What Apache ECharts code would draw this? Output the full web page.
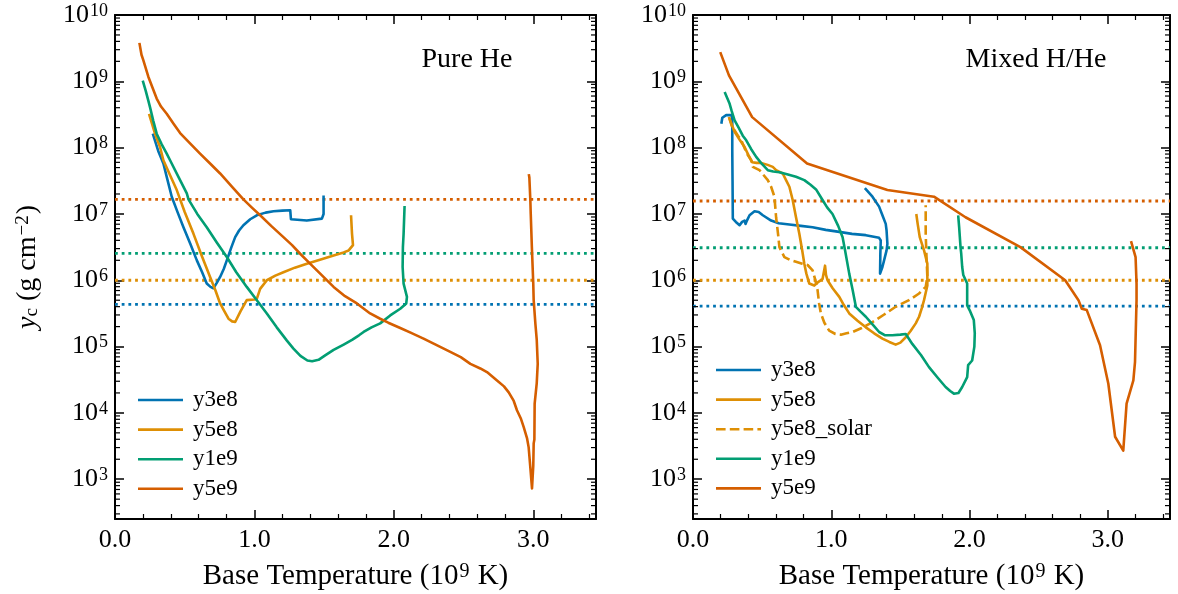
<!DOCTYPE html>
<html>
<head>
<meta charset="utf-8">
<title>Column depth vs base temperature</title>
<script src="https://cdn.jsdelivr.net/npm/echarts@6/dist/echarts.min.js"></script>
<style>
  html, body { margin: 0; padding: 0; background: #ffffff; }
  #chart { width: 1178px; height: 594px; }
</style>
</head>
<body>
<div id="chart"></div>
<script>
// Column depth y_c (stored as log10 of g cm^-2) against base temperature (10^9 K).
// Each track is a list of [T9, log10(y_c)] pairs.

// ---- Pure He ----
const pureHe_y3e8 = [
  [0.271, 8.21], [0.31, 7.95], [0.347, 7.76], [0.371, 7.56], [0.407, 7.26], [0.45, 7.02],
  [0.491, 6.80], [0.54, 6.55], [0.587, 6.30], [0.625, 6.12], [0.658, 5.95], [0.685, 5.90],
  [0.706, 5.88], [0.73, 5.96], [0.754, 6.05], [0.78, 6.17], [0.802, 6.30], [0.835, 6.50],
  [0.862, 6.65], [0.89, 6.75], [0.921, 6.83], [0.97, 6.92], [1.017, 6.98], [1.08, 7.02],
  [1.137, 7.04], [1.2, 7.05], [1.257, 7.055], [1.262, 6.92], [1.269, 6.90], [1.376, 6.90],
  [1.484, 6.93], [1.496, 7.0], [1.496, 7.28]
];
const pureHe_y5e8 = [
  [0.244, 8.51], [0.287, 8.21], [0.323, 8.01], [0.347, 7.81], [0.40, 7.56], [0.443, 7.36],
  [0.50, 7.03], [0.563, 6.70], [0.62, 6.38], [0.682, 6.05], [0.72, 5.85], [0.754, 5.65],
  [0.785, 5.53], [0.814, 5.42], [0.84, 5.38], [0.862, 5.37], [0.90, 5.53], [0.945, 5.70],
  [1.0, 5.71], [1.017, 5.72], [1.041, 5.87], [1.089, 6.0], [1.15, 6.07], [1.208, 6.12],
  [1.29, 6.19], [1.376, 6.25], [1.47, 6.31], [1.568, 6.375], [1.64, 6.42], [1.676, 6.45],
  [1.707, 6.53], [1.70, 6.70], [1.693, 6.98]
];
const pureHe_y1e9 = [
  [0.199, 9.01], [0.205, 9.0], [0.22, 8.86], [0.239, 8.71], [0.251, 8.61], [0.275, 8.40],
  [0.299, 8.21], [0.335, 8.05], [0.371, 7.91], [0.395, 7.81], [0.455, 7.56], [0.515, 7.31],
  [0.527, 7.22], [0.59, 7.00], [0.658, 6.80], [0.73, 6.57], [0.802, 6.35], [0.87, 6.12],
  [0.945, 5.90], [1.02, 5.69], [1.089, 5.50], [1.16, 5.29], [1.233, 5.09], [1.28, 4.97],
  [1.33, 4.86], [1.38, 4.79], [1.414, 4.78], [1.46, 4.80], [1.51, 4.87], [1.568, 4.95],
  [1.64, 5.03], [1.70, 5.10], [1.75, 5.17], [1.783, 5.22], [1.79, 5.25], [1.84, 5.29],
  [1.902, 5.35], [1.974, 5.47], [2.046, 5.57], [2.089, 5.65], [2.094, 5.75], [2.07, 5.95],
  [2.063, 6.20], [2.065, 6.50], [2.07, 6.70], [2.077, 7.12]
];
const pureHe_y5e9 = [
  [0.175, 9.58], [0.19, 9.40], [0.203, 9.32], [0.239, 9.07], [0.27, 8.90], [0.299, 8.74],
  [0.33, 8.62], [0.371, 8.51], [0.42, 8.36], [0.467, 8.22], [0.54, 8.06], [0.61, 7.91],
  [0.682, 7.76], [0.754, 7.61], [0.84, 7.41], [0.921, 7.22], [0.98, 7.10], [1.041, 6.98],
  [1.12, 6.82], [1.208, 6.65], [1.27, 6.53], [1.328, 6.40], [1.39, 6.27], [1.448, 6.15],
  [1.51, 6.02], [1.568, 5.90], [1.65, 5.76], [1.735, 5.65], [1.83, 5.50], [1.902, 5.42],
  [1.96, 5.36], [2.046, 5.28], [2.12, 5.21], [2.213, 5.12], [2.30, 5.03], [2.405, 4.92],
  [2.48, 4.84], [2.549, 4.74], [2.62, 4.67], [2.668, 4.615], [2.74, 4.49], [2.79, 4.40],
  [2.824, 4.31], [2.86, 4.18], [2.883, 4.04], [2.91, 3.92], [2.931, 3.79], [2.955, 3.62],
  [2.967, 3.48], [2.98, 3.15], [2.991, 2.86], [3.0, 3.20], [3.003, 3.54], [3.008, 3.60],
  [3.01, 4.14], [3.025, 4.45], [3.032, 4.74], [3.025, 5.10], [3.015, 5.35], [3.003, 5.70],
  [3.0, 5.95], [2.99, 6.50], [2.982, 7.00], [2.979, 7.21], [2.972, 7.55], [2.968, 7.60]
];
// ignition depths (log10) for y3e8, y5e8, y1e9, y5e9
const pureHe_levels = [5.635, 6.0, 6.406, 7.22];

// ---- Mixed H/He ----
const mixed_y3e8 = [
  [0.205, 8.36], [0.212, 8.45], [0.24, 8.49], [0.277, 8.49], [0.284, 8.45], [0.284, 7.96],
  [0.286, 7.5], [0.288, 6.93], [0.31, 6.88], [0.337, 6.83], [0.355, 6.88], [0.373, 6.90],
  [0.38, 6.85], [0.39, 6.9], [0.409, 6.98], [0.445, 7.04], [0.475, 7.03], [0.505, 6.98],
  [0.565, 6.90], [0.62, 6.86], [0.697, 6.84], [0.78, 6.82], [0.865, 6.80], [0.96, 6.76],
  [1.058, 6.73], [1.15, 6.70], [1.25, 6.68], [1.346, 6.64], [1.358, 6.60], [1.355, 6.40],
  [1.353, 6.10], [1.37, 6.20], [1.382, 6.30], [1.40, 6.45], [1.406, 6.55], [1.40, 6.75],
  [1.394, 6.85], [1.37, 6.98], [1.346, 7.11], [1.298, 7.26], [1.243, 7.39]
];
const mixed_y5e8 = [
  [0.26, 8.46], [0.28, 8.35], [0.301, 8.24], [0.34, 8.11], [0.373, 8.01], [0.40, 7.89],
  [0.428, 7.78], [0.46, 7.77], [0.493, 7.77], [0.54, 7.74], [0.577, 7.71], [0.601, 7.66],
  [0.649, 7.61], [0.673, 7.51], [0.697, 7.41], [0.721, 7.21], [0.745, 6.95], [0.769, 6.70],
  [0.79, 6.45], [0.805, 6.25], [0.82, 6.10], [0.841, 5.95], [0.877, 5.92], [0.91, 5.98],
  [0.937, 6.02], [0.955, 6.22], [0.962, 6.08], [0.973, 6.00], [1.01, 5.88], [1.058, 5.75],
  [1.09, 5.63], [1.13, 5.50], [1.19, 5.39], [1.25, 5.29], [1.31, 5.20], [1.37, 5.12],
  [1.42, 5.07], [1.466, 5.03], [1.50, 5.06], [1.539, 5.14], [1.575, 5.24], [1.611, 5.35],
  [1.635, 5.45], [1.655, 5.58], [1.671, 5.70], [1.695, 5.92], [1.695, 6.25], [1.671, 6.45],
  [1.64, 6.65], [1.625, 6.85], [1.615, 7.0]
];
const mixed_y5e8_solar = [
  [0.26, 8.46], [0.28, 8.33], [0.301, 8.26], [0.325, 8.18], [0.349, 8.11], [0.39, 7.91],
  [0.421, 7.81], [0.433, 7.71], [0.481, 7.66], [0.541, 7.51], [0.565, 7.41], [0.589, 7.26],
  [0.601, 6.95], [0.615, 6.70], [0.625, 6.50], [0.661, 6.35], [0.70, 6.31], [0.745, 6.28],
  [0.79, 6.25], [0.829, 6.23], [0.865, 6.15], [0.885, 6.00], [0.901, 5.85], [0.912, 5.65],
  [0.925, 5.50], [0.95, 5.36], [0.985, 5.24], [1.03, 5.19], [1.07, 5.18], [1.11, 5.20],
  [1.154, 5.22], [1.22, 5.28], [1.298, 5.37], [1.38, 5.48], [1.466, 5.60], [1.562, 5.70],
  [1.635, 5.80], [1.683, 5.90], [1.695, 6.05], [1.688, 6.40], [1.683, 6.70], [1.683, 7.13]
];
const mixed_y1e9 = [
  [0.229, 8.84], [0.245, 8.76], [0.265, 8.66], [0.28, 8.55], [0.301, 8.41], [0.33, 8.30],
  [0.36, 8.18], [0.385, 8.11], [0.42, 7.98], [0.457, 7.86], [0.5, 7.75], [0.541, 7.66],
  [0.58, 7.64], [0.625, 7.63], [0.68, 7.60], [0.745, 7.56], [0.805, 7.51], [0.85, 7.44],
  [0.89, 7.37], [0.937, 7.21], [0.97, 7.10], [1.009, 7.00], [1.05, 6.82], [1.082, 6.65],
  [1.10, 6.45], [1.13, 6.10], [1.155, 5.85], [1.178, 5.60], [1.21, 5.53], [1.25, 5.45],
  [1.30, 5.33], [1.346, 5.22], [1.39, 5.17], [1.442, 5.17], [1.50, 5.18], [1.539, 5.19],
  [1.586, 5.04], [1.65, 4.87], [1.707, 4.69], [1.77, 4.53], [1.827, 4.39], [1.86, 4.33],
  [1.887, 4.29], [1.92, 4.30], [1.947, 4.39], [1.983, 4.54], [1.99, 4.72], [2.019, 4.79],
  [2.035, 5.00], [2.038, 5.2], [2.031, 5.40], [2.005, 5.53], [1.983, 5.62], [1.983, 5.95],
  [1.955, 6.08], [1.947, 6.20], [1.94, 6.40], [1.935, 6.50], [1.925, 6.80], [1.918, 6.98]
];
const mixed_y5e9 = [
  [0.197, 9.44], [0.26, 9.09], [0.428, 8.46], [0.825, 7.76], [1.406, 7.36], [1.743, 7.26],
  [1.971, 6.95], [2.368, 6.50], [2.692, 6.00], [2.788, 5.70], [2.812, 5.57], [2.824, 5.55],
  [2.848, 5.55], [2.86, 5.52], [2.944, 5.02], [3.004, 4.44], [3.053, 3.64], [3.112, 3.43],
  [3.136, 4.14], [3.185, 4.49], [3.197, 4.77], [3.208, 5.70], [3.208, 5.95], [3.201, 6.35],
  [3.168, 6.59]
];
// ignition depths (log10) for y3e8, y5e8, y1e9, y5e9
const mixed_levels = [5.61, 6.0, 6.49, 7.195];

const trackNames = ['y3e8', 'y5e8', 'y1e9', 'y5e9'];
const xTickValues = [0, 1, 2, 3];

// ---- styling ----
const FONT = '"Liberation Serif", "DejaVu Serif", serif';
const COLORS = { y3e8: '#0173B2', y5e8: '#DE8F05', y1e9: '#029E73', y5e9: '#D55E00' };
const X_MIN = 0, X_MAX = 3.45;
const LOG_MIN = 2.4, LOG_MAX = 10;
const LINE_W = 2.6;
const DASH = [9.6, 4.2];

const isWhole = v => Math.abs(v - Math.round(v)) < 1e-6;

// fixed plot rectangles; outer bounds are not used to shrink them
const grids = [
  { left: 115, top: 15, width: 481, height: 504, containLabel: false, outerBoundsMode: 'none' },
  { left: 693, top: 15, width: 477, height: 504, containLabel: false, outerBoundsMode: 'none' }
];

const tickRich = {
  b: { fontFamily: FONT, fontSize: 26, color: '#000', lineHeight: 26, verticalAlign: 'bottom' },
  s: { fontFamily: FONT, fontSize: 18, color: '#000', lineHeight: 18, verticalAlign: 'top', padding: [0, 0, 10, 1] }
};

function xAxisCfg(gridIndex, position, withName) {
  const cfg = {
    type: 'value', gridIndex, position, min: X_MIN, max: X_MAX,
    minInterval: 1, maxInterval: 1,
    axisLine: { show: true, onZero: false, lineStyle: { color: '#000', width: 2 } },
    axisTick: { show: true, inside: true, length: 9, lineStyle: { color: '#000', width: 1.5 } },
    minorTick: { show: true, splitNumber: 5, length: 5, lineStyle: { color: '#000', width: 1.2 } },
    splitLine: { show: false }, minorSplitLine: { show: false },
    axisLabel: {
      show: position === 'bottom', margin: 8, fontFamily: FONT, fontSize: 26, color: '#000',
      formatter: v => (isWhole(v) && xTickValues.includes(Math.round(v))) ? v.toFixed(1) : ''
    }
  };
  if (withName) {
    cfg.name = '{r|Base Temperature (10}{s|9}{r| K)}';
    cfg.nameLocation = 'middle';
    cfg.nameGap = 43;
    cfg.nameTextStyle = {
      rich: {
        r: { fontFamily: FONT, fontSize: 29, color: '#000', lineHeight: 29, verticalAlign: 'bottom' },
        s: { fontFamily: FONT, fontSize: 20, color: '#000', lineHeight: 20, verticalAlign: 'top', padding: [0, 1, 9, 1] }
      }
    };
  }
  return cfg;
}

function yAxisCfg(gridIndex, position, withName) {
  const cfg = {
    type: 'value', gridIndex, position, min: LOG_MIN, max: LOG_MAX,
    minInterval: 1, maxInterval: 1, splitNumber: 8,
    axisLine: { show: true, onZero: false, lineStyle: { color: '#000', width: 2 } },
    axisTick: { show: true, inside: true, length: 9, lineStyle: { color: '#000', width: 1.5 } },
    splitLine: { show: false },
    axisLabel: {
      show: position === 'left', margin: 7,
      formatter: v => isWhole(v) ? '{b|10}{s|' + Math.round(v) + '}' : '',
      rich: tickRich
    }
  };
  if (withName) {
    cfg.name = '{i|y}{sub|c}{r| (g cm}{sup|\u22122}{r|)}';
    cfg.nameLocation = 'middle';
    cfg.nameRotate = 90;
    cfg.nameGap = 73;
    cfg.nameTextStyle = {
      rich: {
        i: { fontFamily: FONT, fontSize: 28, fontStyle: 'italic', color: '#000', lineHeight: 28, verticalAlign: 'middle' },
        sub: { fontFamily: FONT, fontSize: 19, color: '#000', lineHeight: 19, verticalAlign: 'bottom', padding: [10, 0, 0, 0] },
        r: { fontFamily: FONT, fontSize: 28, color: '#000', lineHeight: 28, verticalAlign: 'middle' },
        sup: { fontFamily: FONT, fontSize: 19, color: '#000', lineHeight: 19, verticalAlign: 'top', padding: [0, 1, 8, 1] }
      }
    };
  }
  return cfg;
}

// log-spaced minor ticks on the left and right frame edges of one panel
function logMinorTicks(params, api) {
  const children = [];
  const len = 5;
  for (let d = Math.floor(LOG_MIN); d < LOG_MAX; d++) {
    for (let k = 2; k <= 9; k++) {
      const v = d + Math.log10(k);
      if (v <= LOG_MIN || v >= LOG_MAX) continue;
      const pl = api.coord([X_MIN, v]);
      const pr = api.coord([X_MAX, v]);
      const st = { stroke: '#000', lineWidth: 1.2 };
      children.push({ type: 'line', shape: { x1: pl[0], y1: pl[1], x2: pl[0] + len, y2: pl[1] }, style: st });
      children.push({ type: 'line', shape: { x1: pr[0] - len, y1: pr[1], x2: pr[0], y2: pr[1] }, style: st });
    }
  }
  return { type: 'group', children };
}

function track(name, data, axisIdx, dashed) {
  const c = COLORS[name.slice(0, 4)];
  return {
    name, type: 'line', data, xAxisIndex: axisIdx, yAxisIndex: axisIdx,
    symbol: 'none', showSymbol: false, smooth: false, z: 3,
    lineStyle: { color: c, width: LINE_W, type: dashed ? DASH : 'solid', cap: 'butt', join: 'round' },
    itemStyle: { color: c },
    emphasis: { disabled: true }
  };
}

function level(value, colorKey, axisIdx) {
  return {
    name: 'level-' + colorKey, type: 'line', xAxisIndex: axisIdx, yAxisIndex: axisIdx,
    data: [[X_MIN, value], [X_MAX, value]],
    symbol: 'none', showSymbol: false, z: 2, silent: true,
    lineStyle: { color: COLORS[colorKey], width: 2.8, type: [2.8, 3.9], cap: 'butt' },
    emphasis: { disabled: true }
  };
}

const series = [];
// Pure He panel (axes 0)
pureHe_levels.forEach((v, i) => series.push(level(v, trackNames[i], 0)));
series.push(track('y3e8', pureHe_y3e8, 0));
series.push(track('y5e8', pureHe_y5e8, 0));
series.push(track('y1e9', pureHe_y1e9, 0));
series.push(track('y5e9', pureHe_y5e9, 0));
// Mixed H/He panel (axes 2)
mixed_levels.forEach((v, i) => series.push(level(v, trackNames[i], 2)));
series.push(track('y3e8', mixed_y3e8, 2));
series.push(track('y5e8', mixed_y5e8, 2));
series.push(track('y5e8_solar', mixed_y5e8_solar, 2, true));
series.push(track('y1e9', mixed_y1e9, 2));
series.push(track('y5e9', mixed_y5e9, 2));
// minor log ticks for both panels
[0, 2].forEach(idx => series.push({
  type: 'custom', xAxisIndex: idx, yAxisIndex: idx, data: [[1, 5]],
  renderItem: logMinorTicks, silent: true, clip: false, z: 5
}));

// legend keys: a plain bar for solid tracks, a dashed bar for the solar track
const SOLID_KEY = 'path://M0,0H45V2.6H0Z';
const DASHED_KEY = 'path://M0,0H9.6V2.6H0Z M13.8,0H23.4V2.6H13.8Z M27.6,0H37.2V2.6H27.6Z M41.4,0H45V2.6H41.4Z';
const legendItem = name => ({ name, icon: name.endsWith('_solar') ? DASHED_KEY : SOLID_KEY });

const legendBase = {
  orient: 'vertical', itemWidth: 45, itemHeight: 2.6, itemGap: 6.6,
  selectedMode: false,
  textStyle: { fontFamily: FONT, fontSize: 23, color: '#000', padding: [0, 0, 0, 5] }
};

const option = {
  animation: false,
  backgroundColor: '#ffffff',
  grid: grids,
  xAxis: [
    xAxisCfg(0, 'bottom', true), xAxisCfg(0, 'top', false),
    xAxisCfg(1, 'bottom', true), xAxisCfg(1, 'top', false)
  ],
  yAxis: [
    yAxisCfg(0, 'left', true), yAxisCfg(0, 'right', false),
    yAxisCfg(1, 'left', false), yAxisCfg(1, 'right', false)
  ],
  legend: [
    Object.assign({}, legendBase, { left: 133, top: 383.5, data: ['y3e8', 'y5e8', 'y1e9', 'y5e9'].map(legendItem) }),
    Object.assign({}, legendBase, { left: 711, top: 353.5, data: ['y3e8', 'y5e8', 'y5e8_solar', 'y1e9', 'y5e9'].map(legendItem) })
  ],
  graphic: [
    { type: 'text', x: 467, y: 60, style: { text: 'Pure He', fontFamily: FONT, fontSize: 28, fill: '#000', align: 'center', verticalAlign: 'middle' } },
    { type: 'text', x: 1036, y: 60, style: { text: 'Mixed H/He', fontFamily: FONT, fontSize: 28, fill: '#000', align: 'center', verticalAlign: 'middle' } }
  ],
  series
};

const chart = echarts.init(document.getElementById('chart'), null, { renderer: 'canvas' });
chart.setOption(option);
</script>
</body>
</html>
